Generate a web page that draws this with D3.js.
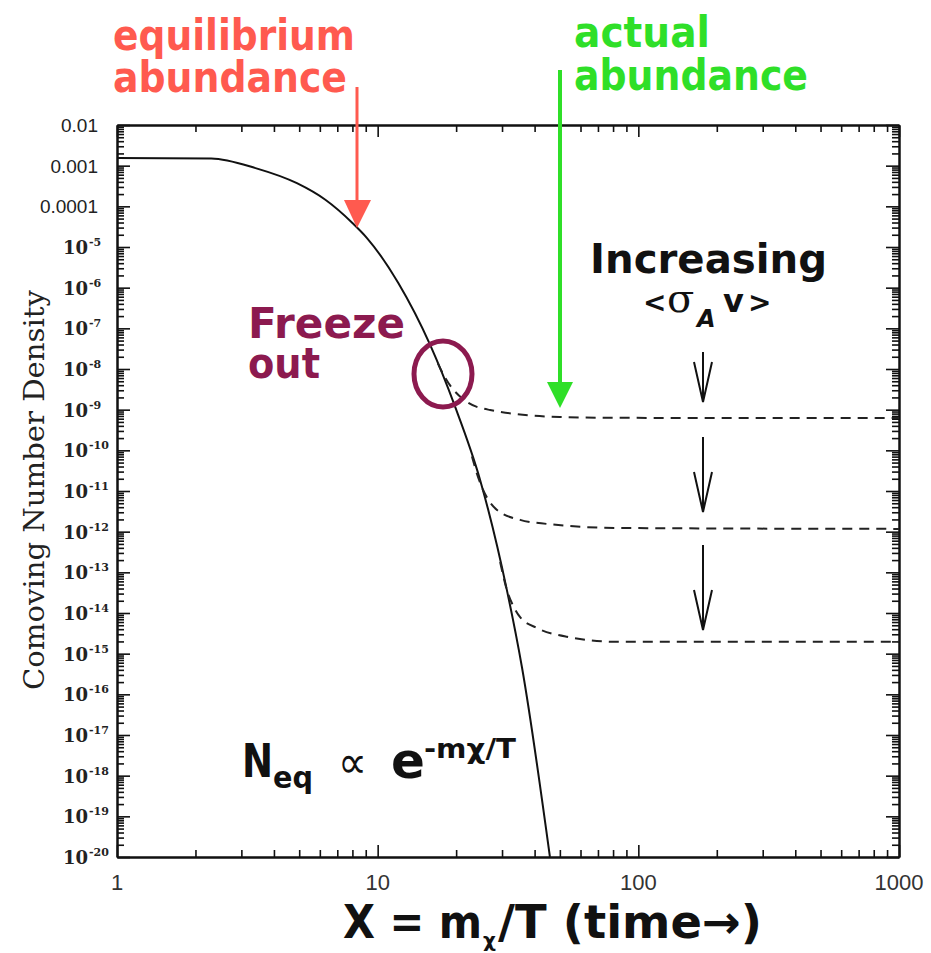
<!DOCTYPE html>
<html lang="en">
<head>
<meta charset="UTF-8" />
<title>Freeze-out abundance</title>
<style>
  body { margin: 0; background: white; overflow: hidden; }
  svg { display: block; }
  .ann { font-family: "Comic Sans MS", "DejaVu Sans", sans-serif; font-weight: bold; }
</style>
</head>
<body>
<svg id="chart" width="931" height="953"></svg>
<script src="https://d3js.org/d3.v7.min.js"></script>
<script>
// equilibrium abundance (solid)
const eqX = [1, 2.3, 3.4, 4.9, 6.3, 8.0, 9.1, 12, 15.9, 19.8, 24.7, 31.3, 35.8, 45.8];
const eqY = [1.55e-3, 1.5e-3, 8.7e-4, 3.7e-4, 1.45e-4, 3.9e-5, 1.66e-5, 1.3e-6, 3.9e-8, 1.2e-9, 1.9e-11, 3.7e-14, 4.5e-16, 1e-20];

// actual abundance for three values of <sigma v> (dashed)
const d1X = [17, 18.1, 22, 27, 50, 85, 1000];
const d1Y = [1.4e-8, 6.3e-9, 1.55e-9, 9.8e-10, 6.6e-10, 6.3e-10, 6.2e-10];
const d2X = [23, 24, 28.7, 35.2, 44.6, 85, 1000];
const d2Y = [7.1e-11, 2.75e-11, 3.4e-12, 1.95e-12, 1.55e-12, 1.23e-12, 1.17e-12];
const d3X = [29.5, 31.3, 33.5, 35.2, 40.8, 53.2, 85, 1000];
const d3Y = [1.8e-13, 3.7e-14, 1.3e-14, 7.9e-15, 4.3e-15, 2.6e-15, 1.95e-15, 1.95e-15];

// axis ticks
const xMajor = [1, 10, 100, 1000];
const xLabels = ["1", "10", "100", "1000"];
const yExponents = d3.range(-2, -21, -1);
const yDecimalLabels = ["0.01", "0.001", "0.0001"];

const box = {left: 117, right: 899, top: 125, bottom: 857};

const x = d3.scaleLog().domain([1, 1000]).range([box.left, box.right]);
const y = d3.scaleLog().domain([1e-20, 1e-2]).range([box.bottom, box.top]);

const svg = d3.select("#chart");

const xMinor = xMajor.slice(0, -1).flatMap(d => d3.range(2, 10).map(k => k * d));
const yMajor = yExponents.map(e => Math.pow(10, e));
const yMinor = yMajor.slice(1).flatMap(d => d3.range(2, 10).map(k => k * d));

function drawAxis(axis, transform) {
  svg.append("g").attr("transform", transform).call(axis)
    .call(g => g.select(".domain").attr("stroke", "#111").attr("stroke-width", 2))
    .call(g => g.selectAll(".tick line").attr("stroke", "#111").attr("stroke-width", 1.6))
    .call(g => g.selectAll(".tick text").remove());
}

[[12, xMajor], [7, xMinor]].forEach(([len, vals]) => {
  drawAxis(d3.axisBottom(x).tickValues(vals).tickSize(-len).tickSizeOuter(0), `translate(0,${box.bottom})`);
  drawAxis(d3.axisTop(x).tickValues(vals).tickSize(-len).tickSizeOuter(0), `translate(0,${box.top})`);
});
[[13, yMajor], [7, yMinor]].forEach(([len, vals]) => {
  drawAxis(d3.axisLeft(y).tickValues(vals).tickSize(-len).tickSizeOuter(0), `translate(${box.left},0)`);
  drawAxis(d3.axisRight(y).tickValues(vals).tickSize(-len).tickSizeOuter(0), `translate(${box.right},0)`);
});

// x tick labels
svg.append("g").selectAll("text").data(xMajor).join("text")
  .attr("x", d => x(d)).attr("y", box.bottom + 33)
  .attr("text-anchor", "middle")
  .attr("font-family", "Liberation Sans, Arial, sans-serif")
  .attr("font-size", 22).attr("fill", "#333")
  .text((d, i) => xLabels[i]);

// y tick labels
const yl = svg.append("g").attr("fill", "#222");
yExponents.forEach((e, i) => {
  const yy = y(Math.pow(10, e));
  if (i < yDecimalLabels.length) {
    yl.append("text").attr("x", 98).attr("y", yy + 7)
      .attr("text-anchor", "end")
      .attr("font-family", "Liberation Sans, Arial, sans-serif")
      .attr("font-size", 19).text(yDecimalLabels[i]);
  } else {
    yl.append("text").attr("x", 88).attr("y", yy + 7)
      .attr("text-anchor", "end")
      .attr("font-family", "DejaVu Serif, serif").attr("font-weight", "bold")
      .attr("font-size", 18).text("10");
    yl.append("text").attr("x", 89).attr("y", yy - 1)
      .attr("font-family", "DejaVu Serif, serif").attr("font-weight", "bold")
      .attr("font-size", 11).text("-" + (-e));
  }
});

// y axis title
svg.append("text")
  .attr("transform", "translate(44,490) rotate(-90)")
  .attr("text-anchor", "middle")
  .attr("font-family", "DejaVu Serif, serif")
  .attr("font-size", 28).attr("fill", "#222")
  .attr("textLength", 400).attr("lengthAdjust", "spacingAndGlyphs")
  .text("Comoving Number Density");

// curves
const line = d3.line().x(d => x(d[0])).y(d => y(d[1])).curve(d3.curveMonotoneX);
svg.append("defs").append("clipPath").attr("id", "plotClip")
  .append("rect").attr("x", box.left).attr("y", box.top)
  .attr("width", box.right - box.left).attr("height", box.bottom - box.top);

const plot = svg.append("g").attr("clip-path", "url(#plotClip)");
plot.append("path")
  .datum(d3.zip(eqX, eqY))
  .attr("d", line).attr("fill", "none")
  .attr("stroke", "#111").attr("stroke-width", 2);

[[d1X, d1Y], [d2X, d2Y], [d3X, d3Y]].forEach(([xs, ys]) => {
  plot.append("path")
    .datum(d3.zip(xs, ys))
    .attr("d", line).attr("fill", "none")
    .attr("stroke", "#222").attr("stroke-width", 2)
    .attr("stroke-dasharray", "10,7");
});

// annotations
const red = "#ff5a4f", green = "#2fdf28", purple = "#8c1a4f";

svg.append("text").attr("class", "ann").attr("x", 113).attr("y", 50)
  .attr("font-size", 42).attr("fill", red)
  .attr("textLength", 242).attr("lengthAdjust", "spacingAndGlyphs").text("equilibrium");
svg.append("text").attr("class", "ann").attr("x", 113).attr("y", 92)
  .attr("font-size", 42).attr("fill", red)
  .attr("textLength", 234).attr("lengthAdjust", "spacingAndGlyphs").text("abundance");
svg.append("line").attr("x1", 357).attr("y1", 87).attr("x2", 357).attr("y2", 205)
  .attr("stroke", red).attr("stroke-width", 3);
svg.append("path").attr("d", "M344,200L371,200L357,228Z").attr("fill", red);

svg.append("text").attr("class", "ann").attr("x", 574).attr("y", 47)
  .attr("font-size", 42).attr("fill", green)
  .attr("textLength", 136).attr("lengthAdjust", "spacingAndGlyphs").text("actual");
svg.append("text").attr("class", "ann").attr("x", 574).attr("y", 90)
  .attr("font-size", 42).attr("fill", green)
  .attr("textLength", 234).attr("lengthAdjust", "spacingAndGlyphs").text("abundance");
svg.append("line").attr("x1", 560).attr("y1", 70).attr("x2", 560).attr("y2", 386)
  .attr("stroke", green).attr("stroke-width", 4);
svg.append("path").attr("d", "M547,382L573,382L560,408Z").attr("fill", green);

svg.append("text").attr("class", "ann").attr("x", 590).attr("y", 273)
  .attr("font-size", 40).attr("fill", "#111")
  .attr("textLength", 237).attr("lengthAdjust", "spacingAndGlyphs").text("Increasing");
const sv = svg.append("g").attr("fill", "#111");
sv.append("text").attr("class", "ann").attr("x", 643).attr("y", 312).attr("font-size", 28).text("<");
sv.append("text").attr("x", 667).attr("y", 312).attr("font-family", "DejaVu Serif, serif")
  .attr("font-size", 40).text("σ");
sv.append("text").attr("class", "ann").attr("x", 697).attr("y", 327).attr("font-size", 24)
  .attr("font-style", "italic").text("A");
sv.append("text").attr("class", "ann").attr("x", 723).attr("y", 312).attr("font-size", 32).text("v");
sv.append("text").attr("class", "ann").attr("x", 748).attr("y", 312).attr("font-size", 28).text(">");

// open arrows, increasing cross-section
[[352, 402, 362], [437, 512, 472], [545, 630, 590]].forEach(([y0, tip, arm]) => {
  svg.append("path")
    .attr("d", `M703,${y0}L703,${tip}M694,${arm}L703,${tip}L712,${arm}`)
    .attr("fill", "none").attr("stroke", "#111").attr("stroke-width", 2);
});

svg.append("text").attr("class", "ann").attr("x", 248).attr("y", 338)
  .attr("font-size", 42).attr("fill", purple)
  .attr("textLength", 157).attr("lengthAdjust", "spacingAndGlyphs").text("Freeze");
svg.append("text").attr("class", "ann").attr("x", 248).attr("y", 378)
  .attr("font-size", 42).attr("fill", purple)
  .attr("textLength", 72).attr("lengthAdjust", "spacingAndGlyphs").text("out");
svg.append("ellipse").attr("cx", 443).attr("cy", 374).attr("rx", 29).attr("ry", 33)
  .attr("fill", "none").attr("stroke", purple).attr("stroke-width", 5);

// N_eq formula
const fm = svg.append("g").attr("fill", "#111");
fm.append("text").attr("class", "ann").attr("x", 242).attr("y", 777).attr("font-size", 46)
  .attr("textLength", 31).attr("lengthAdjust", "spacingAndGlyphs").text("N");
fm.append("text").attr("class", "ann").attr("x", 273).attr("y", 788).attr("font-size", 30)
  .attr("textLength", 40).attr("lengthAdjust", "spacingAndGlyphs").text("eq");
fm.append("text").attr("x", 338).attr("y", 778).attr("font-family", "DejaVu Sans, sans-serif")
  .attr("font-size", 46).attr("textLength", 29).attr("lengthAdjust", "spacingAndGlyphs").text("∝");
fm.append("text").attr("class", "ann").attr("x", 391).attr("y", 778).attr("font-size", 50).text("e");
fm.append("text").attr("class", "ann").attr("x", 424).attr("y", 758).attr("font-size", 27)
  .attr("textLength", 92).attr("lengthAdjust", "spacingAndGlyphs").text("-mχ/T");

// x axis title
const xt = svg.append("g").attr("fill", "#111");
xt.append("text").attr("class", "ann").attr("x", 343).attr("y", 938).attr("font-size", 46)
  .attr("textLength", 139).attr("lengthAdjust", "spacingAndGlyphs").text("X = m");
xt.append("text").attr("class", "ann").attr("x", 483).attr("y", 947).attr("font-size", 20).text("χ");
xt.append("text").attr("class", "ann").attr("x", 498).attr("y", 938).attr("font-size", 46)
  .attr("textLength", 264).attr("lengthAdjust", "spacingAndGlyphs").text("/T (time→)");
</script>
</body>
</html>
